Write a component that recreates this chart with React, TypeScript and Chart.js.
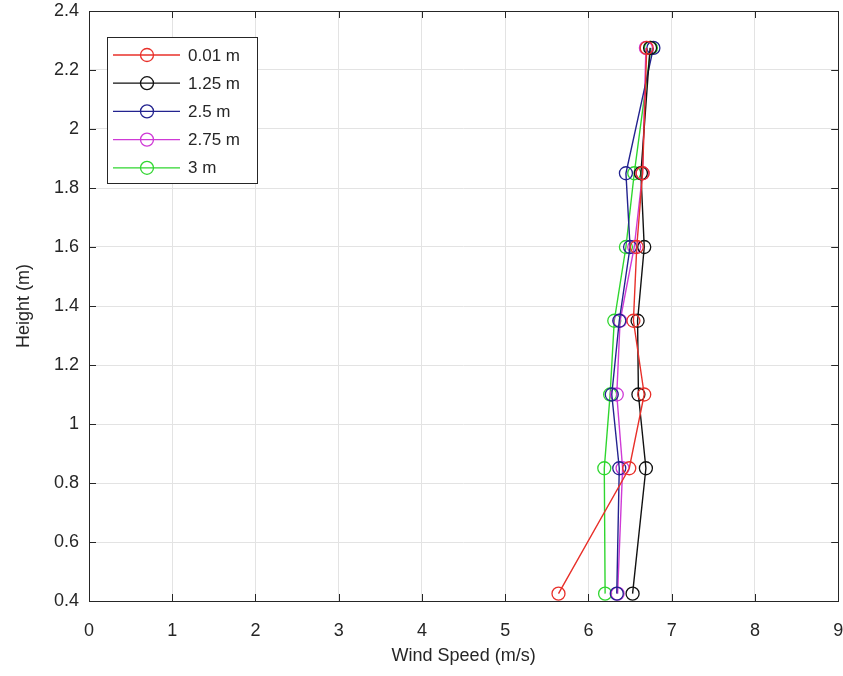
import React, { useEffect, useRef } from "react";
import { Chart, registerables } from "chart.js";

Chart.register(...registerables);

const heights = [0.425, 0.85, 1.1, 1.35, 1.6, 1.85, 2.275];
const seriesLabels = ["0.01 m", "1.25 m", "2.5 m", "2.75 m", "3 m"];
const seriesColors = ["#e8302a", "#111111", "#23238f", "#cf3ad6", "#2fd62f"];
const speed001 = [5.64, 6.49, 6.67, 6.54, 6.58, 6.65, 6.7];
const speed125 = [6.53, 6.69, 6.6, 6.59, 6.67, 6.63, 6.74];
const speed250 = [6.34, 6.37, 6.28, 6.37, 6.5, 6.45, 6.78];
const speed275 = [6.35, 6.41, 6.34, 6.38, 6.55, 6.65, 6.69];
const speed300 = [6.2, 6.19, 6.26, 6.31, 6.45, 6.55, 6.75];
const seriesValues = [speed001, speed125, speed250, speed275, speed300];
const xTitle = "Wind Speed (m/s)";
const yTitle = "Height (m)";

const FONT = "'Liberation Sans', Arial, sans-serif";
const TEXT = "#262626";

const decorPlugin = {
  id: "decor",
  afterDatasetsDraw(chart: any) {
    const { ctx, chartArea } = chart;
    const { left, right, top, bottom } = chartArea;
    const xs = chart.scales.x;
    const ys = chart.scales.y;
    ctx.save();
    ctx.strokeStyle = "#262626";
    ctx.lineWidth = 1;
    const tl = 7;
    ctx.beginPath();
    xs.ticks.forEach((t: any) => {
      const px = Math.round(xs.getPixelForValue(t.value)) + 0.5;
      ctx.moveTo(px, bottom);
      ctx.lineTo(px, bottom - tl);
      ctx.moveTo(px, top);
      ctx.lineTo(px, top + tl);
    });
    ys.ticks.forEach((t: any) => {
      const py = Math.round(ys.getPixelForValue(t.value)) + 0.5;
      ctx.moveTo(left, py);
      ctx.lineTo(left + tl, py);
      ctx.moveTo(right, py);
      ctx.lineTo(right - tl, py);
    });
    ctx.stroke();
    ctx.strokeStyle = "#262626";
    ctx.strokeRect(Math.round(left) + 0.5, Math.round(top) + 0.5, Math.round(right - left), Math.round(bottom - top));

    // legend
    const lx = 107, ly = 37, lw = 150, lh = 146;
    ctx.fillStyle = "#ffffff";
    ctx.fillRect(lx, ly, lw, lh);
    ctx.strokeStyle = "#262626";
    ctx.strokeRect(lx + 0.5, ly + 0.5, lw, lh);
    ctx.font = `17px ${FONT}`;
    ctx.textBaseline = "middle";
    ctx.textAlign = "left";
    seriesLabels.forEach((lab, i) => {
      const y = 55 + i * 28.2;
      ctx.strokeStyle = seriesColors[i];
      ctx.lineWidth = 1.3;
      ctx.beginPath();
      ctx.moveTo(113, y);
      ctx.lineTo(180, y);
      ctx.stroke();
      ctx.beginPath();
      ctx.arc(147, y, 6.5, 0, Math.PI * 2);
      ctx.stroke();
      ctx.fillStyle = TEXT;
      ctx.fillText(lab, 188, y + 1);
    });

    // axis titles
    ctx.fillStyle = TEXT;
    ctx.font = `18px ${FONT}`;
    ctx.textAlign = "center";
    ctx.textBaseline = "middle";
    ctx.fillText(xTitle, (left + right) / 2, 656);
    ctx.save();
    ctx.translate(24, (top + bottom) / 2);
    ctx.rotate(-Math.PI / 2);
    ctx.fillText(yTitle, 0, 0);
    ctx.restore();
    ctx.restore();
  },
};

export default function App() {
  const ref = useRef<HTMLCanvasElement | null>(null);
  useEffect(() => {
    document.body.style.margin = "0";
    document.body.style.overflow = "hidden";
    document.documentElement.style.overflow = "hidden";
    const canvas = ref.current!;
    const chart = new Chart(canvas, {
      type: "line",
      data: {
        datasets: seriesValues.map((vals, i) => ({
          label: seriesLabels[i],
          data: vals.map((v, j) => ({ x: v, y: heights[j] })),
          borderColor: seriesColors[i],
          backgroundColor: "rgba(0,0,0,0)",
          borderWidth: 1.4,
          pointRadius: 6.5,
          pointBorderWidth: 1.3,
          pointBackgroundColor: "rgba(0,0,0,0)",
          pointBorderColor: seriesColors[i],
          tension: 0,
          fill: false,
        })),
      },
      options: {
        animation: false,
        responsive: false,
        devicePixelRatio: 1,
        layout: { padding: { left: 0, top: 11, right: 1, bottom: 0 } },
        plugins: { legend: { display: false }, tooltip: { enabled: false } },
        scales: {
          x: {
            type: "linear",
            min: 0,
            max: 9,
            ticks: {
              stepSize: 1,
              padding: 19,
              color: TEXT,
              font: { family: FONT, size: 18 },
            },
            grid: { color: "#e3e3e3", drawTicks: false },
            border: { display: false },
            afterFit: (s: any) => {
              s.height = 75;
              s.paddingLeft = 0;
              s.paddingRight = 0;
            },
          },
          y: {
            type: "linear",
            min: 0.4,
            max: 2.4,
            ticks: {
              stepSize: 0.2,
              padding: 10,
              color: TEXT,
              font: { family: FONT, size: 18 },
              callback: (v: any) => String(Number(Number(v).toFixed(1))),
            },
            grid: { color: "#e3e3e3", drawTicks: false },
            border: { display: false },
            afterFit: (s: any) => {
              s.width = 89;
              s.paddingTop = 0;
              s.paddingBottom = 0;
            },
          },
        },
      },
      plugins: [decorPlugin],
    } as any);
    return () => chart.destroy();
  }, []);
  return <canvas ref={ref} width={846} height={676} style={{ display: "block" }} />;
}
